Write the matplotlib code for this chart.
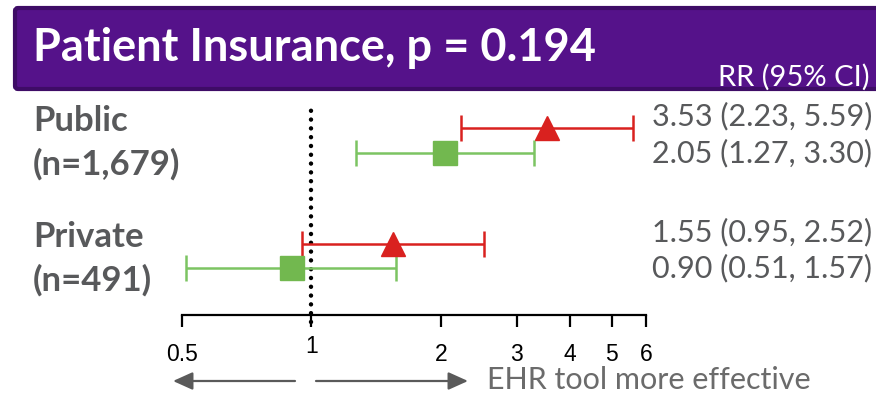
import matplotlib
matplotlib.use("Agg")
import matplotlib.pyplot as plt
from matplotlib.patches import FancyBboxPatch, FancyArrowPatch
from matplotlib.transforms import Affine2D, ScaledTranslation
from matplotlib.ticker import NullLocator, FixedLocator, FixedFormatter

W, H, DPI = 876, 394, 100

# ---- data -------------------------------------------------------------
groups = ["Public", "Private"]
group_n = ["1,679", "491"]
rr_red = [3.53, 1.55]
lo_red = [2.23, 0.95]
hi_red = [5.59, 2.52]
rr_green = [2.05, 0.90]
lo_green = [1.27, 0.51]
hi_green = [3.30, 1.57]
tick_vals = [0.5, 1, 2, 3, 4, 5, 6]
tick_labels = ["0.5", "1", "2", "3", "4", "5", "6"]
title = "Patient Insurance, p = 0.194"
ci_header = "RR (95% CI)"
direction_note = "EHR tool more effective"

# ---- style ------------------------------------------------------------
PURPLE = "#55128a"
PURPLE_EDGE = "#3e0c66"
RED = "#d9211f"
GREEN_MARK = "#72b84f"
GREEN_LINE = "#7cc462"
GRAY = "#58595b"
NOTE_GRAY = "#6b6b6b"
ARROW_GRAY = "#5a5a5a"
FONT = ["Lato", "DejaVu Sans"]
TICK_FONT = ["Liberation Sans", "DejaVu Sans"]

fig = plt.figure(figsize=(W / DPI, H / DPI), dpi=DPI)
fig.patch.set_facecolor("white")

# pixel coordinates measured from the top-left corner
PX = Affine2D().scale(1 / W, -1 / H).translate(0, 1) + fig.transFigure

# ---- header bar -------------------------------------------------------
bar = FancyBboxPatch((15, 8), 880, 81, boxstyle="round,pad=0,rounding_size=3",
                     transform=PX, facecolor=PURPLE, edgecolor=PURPLE_EDGE,
                     linewidth=3, zorder=1)
fig.patches.append(bar)
fig.text(33, 48, title, transform=PX, ha="left", va="center", color="white",
         fontsize=32.5, fontweight="bold", family=FONT, zorder=2)
fig.text(870, 77, ci_header, transform=PX, ha="right", va="center",
         color="white", fontsize=21, family=FONT, zorder=2)

# ---- forest plot axes -------------------------------------------------
ax_l, ax_r, ax_t, ax_b = 182, 646, 95, 315
ax = fig.add_axes([ax_l / W, 1 - ax_b / H, (ax_r - ax_l) / W, (ax_b - ax_t) / H])
ax.set_facecolor("none")
ax.set_xscale("log")
ax.set_xlim(0.5, 6)
ax.set_ylim(-0.511, 1.394)

rows = [1, 0]          # Public on top, Private below
off = 0.108            # vertical split between the two estimates of a row

for i, r in enumerate(rows):
    yr = r + off
    yg = r - off
    ax.errorbar(rr_red[i], yr,
                xerr=[[rr_red[i] - lo_red[i]], [hi_red[i] - rr_red[i]]],
                fmt="none", ecolor=RED, elinewidth=1.8, capsize=9.5,
                capthick=1.8, zorder=3, clip_on=False)
    ax.plot(rr_red[i], yr, marker="^", markersize=17, color=RED,
            linestyle="none", zorder=4, clip_on=False)
    ax.errorbar(rr_green[i], yg,
                xerr=[[rr_green[i] - lo_green[i]], [hi_green[i] - rr_green[i]]],
                fmt="none", ecolor=GREEN_LINE, elinewidth=1.8, capsize=9.5,
                capthick=1.8, zorder=3, clip_on=False)
    ax.plot(rr_green[i], yg, marker="s", markersize=17, color=GREEN_MARK,
            linestyle="none", zorder=4, clip_on=False)

    # group label on the left
    ax.text(-0.321, r + 0.165, groups[i], transform=ax.get_yaxis_transform(),
            ha="left", va="center", color=GRAY, fontsize=25,
            fontweight="bold", family=FONT)
    ax.text(-0.321, r - 0.21, f"(n={group_n[i]})",
            transform=ax.get_yaxis_transform(), ha="left", va="center",
            color=GRAY, fontsize=25, fontweight="bold", family=FONT)

    # estimates on the right
    ax.text(1.013, r + 0.21, f"{rr_red[i]:.2f} ({lo_red[i]:.2f}, {hi_red[i]:.2f})",
            transform=ax.get_yaxis_transform(), ha="left", va="center",
            color=GRAY, fontsize=22, family=FONT)
    ax.text(1.013, r - 0.106,
            f"{rr_green[i]:.2f} ({lo_green[i]:.2f}, {hi_green[i]:.2f})",
            transform=ax.get_yaxis_transform(), ha="left", va="center",
            color=GRAY, fontsize=22, family=FONT)

# null line at RR = 1
ax.axvline(1, ymin=-0.032, ymax=0.96, color="black", linewidth=3.2,
           linestyle=(0, (0.01, 1.97)), dash_capstyle="round",
           solid_capstyle="round", clip_on=False, zorder=2)

# axis styling
for side in ("left", "right", "top"):
    ax.spines[side].set_visible(False)
ax.spines["bottom"].set_linewidth(1.6)
ax.spines["bottom"].set_color("black")
ax.yaxis.set_visible(False)
ax.xaxis.set_major_locator(FixedLocator(tick_vals))
ax.xaxis.set_major_formatter(FixedFormatter(tick_labels))
ax.xaxis.set_minor_locator(NullLocator())
ax.tick_params(axis="x", direction="out", length=8.5, width=1.6, pad=12,
               labelsize=16.5, colors="black")
for lbl in ax.get_xticklabels():
    lbl.set_family(TICK_FONT)
    if lbl.get_text() == "1":
        lbl.set_transform(lbl.get_transform() +
                          ScaledTranslation(0, 8 / DPI, fig.dpi_scale_trans))

# ---- direction arrows and note ---------------------------------------
for x0, x1 in [(295, 173), (316, 468)]:
    arr = FancyArrowPatch((x0, 381), (x1, 381), transform=PX,
                          arrowstyle="-|>,head_length=1.0,head_width=0.45",
                          mutation_scale=12, color=ARROW_GRAY, linewidth=1.6,
                          shrinkA=0, shrinkB=0)
    fig.patches.append(arr)
fig.text(487, 380, direction_note, transform=PX, ha="left", va="center",
         color=NOTE_GRAY, fontsize=22, family=FONT)

fig.savefig("out.png", dpi=DPI, facecolor="white")
